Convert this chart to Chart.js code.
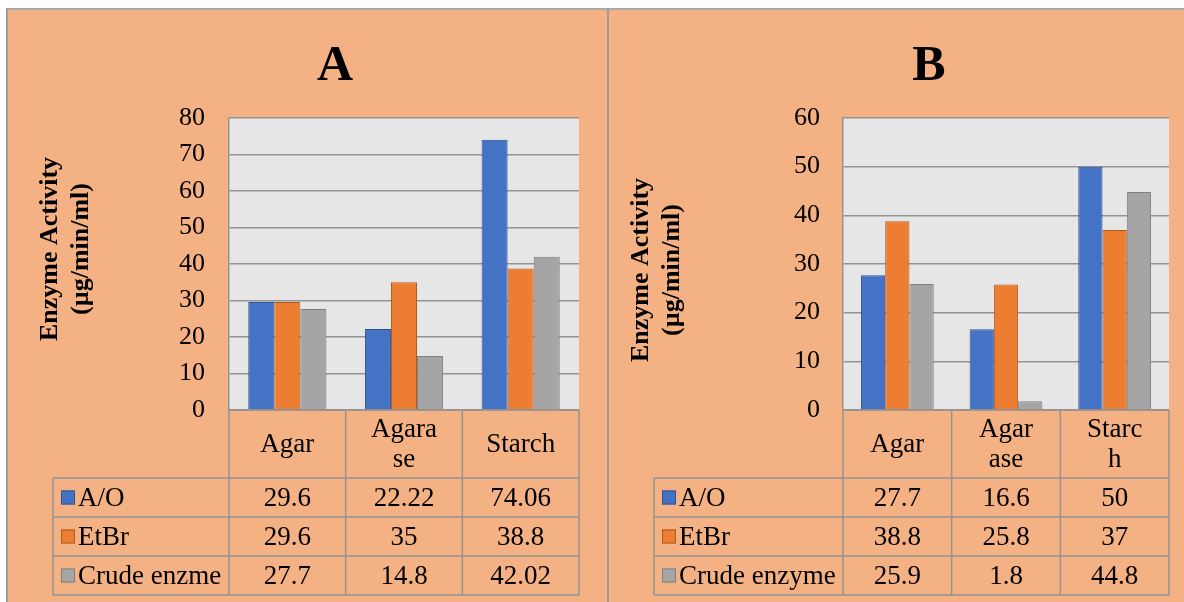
<!DOCTYPE html>
<html>
<head>
<meta charset="utf-8">
<script src="https://cdn.jsdelivr.net/npm/chart.js@4/dist/chart.umd.min.js"></script>
<style>
  html, body { margin: 0; padding: 0; background: #ffffff; width: 1184px; height: 602px; overflow: hidden; }
  #frame { position: absolute; left: 6px; top: 8px; width: 1178px; height: 594px; background: #F4B183;
           border-left: 2px solid #9c9c9c; border-top: 2px solid #a8a8a8; box-sizing: border-box; }
  #divider { position: absolute; left: 607px; top: 8px; width: 2px; height: 594px; background: #9c9c9c; }
  canvas { position: absolute; top: 0; }
  #chartA { left: 0; }
  #chartB { left: 609px; }
</style>
</head>
<body>
<div id="frame"></div>
<div id="divider"></div>
<canvas id="chartA" width="607" height="602" style="width:607px;height:602px"></canvas>
<canvas id="chartB" width="575" height="602" style="width:575px;height:602px"></canvas>
<script>
// Panel A: enzyme activity per substrate
const categoriesA = [['Agar'], ['Agara', 'se'], ['Starch']];
const seriesNamesA = ['A/O', 'EtBr', 'Crude enzme'];
const aoA = [29.6, 22.22, 74.06];
const etbrA = [29.6, 35, 38.8];
const crudeA = [27.7, 14.8, 42.02];
const yMaxA = 80;

// Panel B: enzyme activity per substrate
const categoriesB = [['Agar'], ['Agar', 'ase'], ['Starc', 'h']];
const seriesNamesB = ['A/O', 'EtBr', 'Crude enzyme'];
const aoB = [27.7, 16.6, 50];
const etbrB = [38.8, 25.8, 37];
const crudeB = [25.9, 1.8, 44.8];
const yMaxB = 60;

const yStep = 10;
const yTitleLines = ['Enzyme Activity', '(\u00b5g/min/ml)'];

const FILLS = ['#4472C4', '#ED7D31', '#A5A5A5'];
const EDGES = ['#2F528F', '#AE5A21', '#7F7F7F'];
const SERIF = '"Liberation Serif", "Times New Roman", serif';
const LINE = '#939393';

// Draws plot background, panel letter, rotated axis title and the data table
const panelPlugin = {
  id: 'panel',
  beforeDraw(chart) {
    const { ctx, chartArea: a } = chart;
    ctx.save();
    ctx.fillStyle = '#E7E6E6';
    ctx.fillRect(a.left, a.top, a.right - a.left, a.bottom - a.top);
    ctx.restore();
  },
  afterDraw(chart, args, o) {
    const { ctx, chartArea: a } = chart;
    const xs = chart.scales.x;
    const n = chart.data.labels.length;
    const colW = (a.right - a.left) / n;
    ctx.save();

    // panel letter
    ctx.fillStyle = '#000';
    ctx.font = 'bold 50px ' + SERIF;
    ctx.textAlign = 'center';
    ctx.textBaseline = 'middle';
    ctx.fillText(o.letter, o.letterX, o.letterY);

    // rotated axis title
    ctx.font = 'bold 26px ' + SERIF;
    o.yTitleX.forEach((x, i) => {
      ctx.save();
      ctx.translate(x, o.yTitleY);
      ctx.rotate(-Math.PI / 2);
      ctx.fillText(yTitleLines[i], 0, 0);
      ctx.restore();
    });

    // table grid
    const rows = o.rows; // [header bottom, row1 bottom, row2 bottom, row3 bottom]
    const bottom = rows[rows.length - 1];
    ctx.strokeStyle = LINE;
    ctx.lineWidth = 1.5;
    ctx.beginPath();
    ctx.moveTo(a.left, a.bottom); ctx.lineTo(a.right, a.bottom);
    rows.forEach(y => { ctx.moveTo(o.legendLeft, y); ctx.lineTo(a.right, y); });
    for (let i = 0; i <= n; i++) {
      const x = a.left + i * colW;
      ctx.moveTo(x, a.bottom); ctx.lineTo(x, bottom);
    }
    ctx.moveTo(o.legendLeft, rows[0]); ctx.lineTo(o.legendLeft, bottom);
    ctx.stroke();

    // header: category names
    ctx.font = '27px ' + SERIF;
    ctx.fillStyle = '#000';
    ctx.textAlign = 'center';
    const headMid = (a.bottom + rows[0]) / 2;
    o.categories.forEach((lines, i) => {
      const cx = xs.getPixelForValue(i);
      const lh = 30;
      const y0 = headMid - (lines.length - 1) * lh / 2;
      lines.forEach((t, k) => ctx.fillText(t, cx, y0 + k * lh + 1));
    });

    // rows: legend key + values
    chart.data.datasets.forEach((ds, r) => {
      const mid = (rows[r] + rows[r + 1]) / 2;
      ctx.fillStyle = FILLS[r];
      ctx.strokeStyle = EDGES[r];
      ctx.lineWidth = 1;
      ctx.fillRect(o.legendLeft + 8, mid - 7, 14, 14);
      ctx.strokeRect(o.legendLeft + 8.5, mid - 6.5, 13, 13);
      ctx.fillStyle = '#000';
      ctx.textAlign = 'left';
      ctx.fillText(ds.label, o.legendLeft + 25, mid + 1);
      ctx.textAlign = 'center';
      ds.data.forEach((v, i) => ctx.fillText(String(v), xs.getPixelForValue(i), mid + 1));
    });
    ctx.restore();
  }
};

function makePanel(id, cats, names, series, yMax, lay) {
  return new Chart(document.getElementById(id), {
    type: 'bar',
    data: {
      labels: cats.map(c => c.join('')),
      datasets: series.map((vals, i) => ({
        label: names[i],
        data: vals,
        backgroundColor: FILLS[i],
        borderColor: EDGES[i],
        borderWidth: 1,
        categoryPercentage: 0.67,
        barPercentage: 1
      }))
    },
    options: {
      responsive: false,
      animation: false,
      layout: { padding: { left: 0, top: lay.plotTop, right: lay.rightPad, bottom: 602 - lay.plotBottom } },
      plugins: {
        legend: { display: false },
        tooltip: { enabled: false },
        panel: {
          letter: lay.letter, letterX: lay.letterX, letterY: 67,
          yTitleX: lay.yTitleX, yTitleY: lay.yTitleY,
          legendLeft: lay.legendLeft,
          rows: [478, 517, 556, 595],
          categories: cats
        }
      },
      scales: {
        x: { display: false },
        y: {
          min: 0, max: yMax,
          ticks: { stepSize: yStep, padding: lay.tickGap, color: '#000', font: { family: SERIF, size: 26 } },
          grid: { color: LINE, lineWidth: 1.5, drawTicks: false },
          border: { display: true, color: LINE, width: 1.5 },
          afterFit(scale) { scale.width = lay.plotLeft; }
        }
      }
    },
    plugins: [panelPlugin]
  });
}

makePanel('chartA', categoriesA, seriesNamesA, [aoA, etbrA, crudeA], yMaxA, {
  letter: 'A', letterX: 335, plotLeft: 229, plotTop: 118, plotBottom: 410, rightPad: 28,
  tickGap: 24, legendLeft: 53, yTitleX: [50, 81], yTitleY: 249
});

makePanel('chartB', categoriesB, seriesNamesB, [aoB, etbrB, crudeB], yMaxB, {
  letter: 'B', letterX: 929 - 609, plotLeft: 234, plotTop: 118, plotBottom: 410, rightPad: 15,
  tickGap: 23, legendLeft: 45, yTitleX: [641 - 609, 672 - 609], yTitleY: 270
});
</script>
</body>
</html>
